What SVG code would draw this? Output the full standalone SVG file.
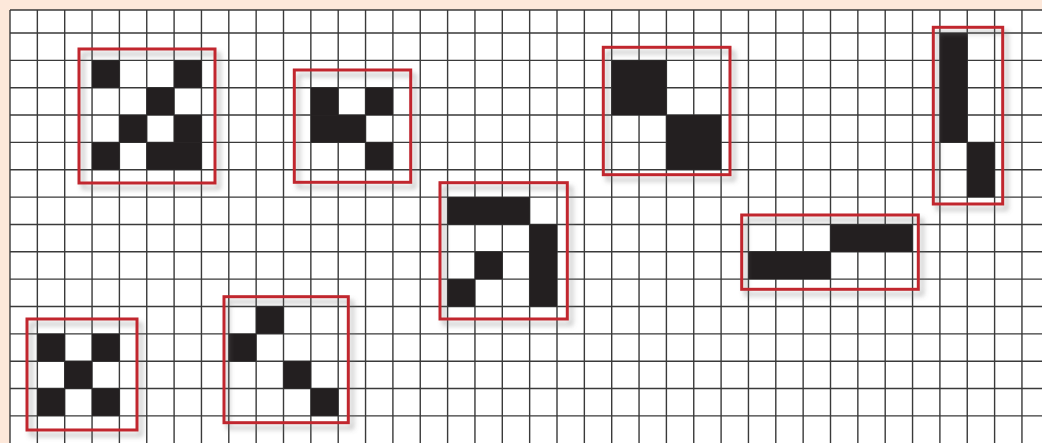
<svg xmlns="http://www.w3.org/2000/svg" width="1042" height="443" viewBox="0 0 1042 443">
<defs>
<style>
.grid{fill:none;stroke:#3a3a3a;stroke-width:1.4}
.b{fill:#231f20}
.frame{fill:none;stroke:#c1272d;stroke-width:3;filter:url(#sh)}
</style>
<filter id="sh" x="-20%" y="-20%" width="150%" height="150%">
<feDropShadow dx="4" dy="5" stdDeviation="2.5" flood-color="#6b6b6b" flood-opacity="0.45"/>
</filter>
</defs>
<rect x="0" y="0" width="1042" height="443" fill="#fde8da"/>
<rect x="10" y="10" width="1032" height="433" fill="#ffffff"/>
<g id="grid">
<path class="grid" d="M10 10V443M37.35 10V443M64.7 10V443M92.05 10V443M119.4 10V443M146.75 10V443M174.1 10V443M201.45 10V443M228.8 10V443M256.15 10V443M283.5 10V443M310.85 10V443M338.2 10V443M365.55 10V443M392.9 10V443M420.25 10V443M447.6 10V443M474.95 10V443M502.3 10V443M529.65 10V443M557 10V443M584.35 10V443M611.7 10V443M639.05 10V443M666.4 10V443M693.75 10V443M721.1 10V443M748.45 10V443M775.8 10V443M803.15 10V443M830.5 10V443M857.85 10V443M885.2 10V443M912.55 10V443M939.9 10V443M967.25 10V443M994.6 10V443M1021.95 10V443M10 10H1042M10 33H1042M10 60.35H1042M10 87.7H1042M10 115.05H1042M10 142.4H1042M10 169.75H1042M10 197.1H1042M10 224.45H1042M10 251.8H1042M10 279.15H1042M10 306.5H1042M10 333.85H1042M10 361.2H1042M10 388.55H1042M10 415.9H1042"/>
</g>
<g id="pattern1">
<rect class="b" x="92.05" y="60.35" width="27.35" height="27.35"/>
<rect class="b" x="174.1" y="60.35" width="27.35" height="27.35"/>
<rect class="b" x="146.75" y="87.7" width="27.35" height="27.35"/>
<rect class="b" x="119.4" y="115.05" width="27.35" height="27.35"/>
<rect class="b" x="174.1" y="115.05" width="27.35" height="27.35"/>
<rect class="b" x="92.05" y="142.4" width="27.35" height="27.35"/>
<rect class="b" x="146.75" y="142.4" width="54.7" height="27.35"/>
<rect class="frame" x="79" y="49" width="136" height="134"/>
</g>
<g id="pattern2">
<rect class="b" x="310.85" y="87.7" width="27.35" height="27.35"/>
<rect class="b" x="365.55" y="87.7" width="27.35" height="27.35"/>
<rect class="b" x="310.85" y="115.05" width="54.7" height="27.35"/>
<rect class="b" x="365.55" y="142.4" width="27.35" height="27.35"/>
<rect class="frame" x="294.3" y="70" width="116.4" height="112.3"/>
</g>
<g id="pattern3">
<rect class="b" x="611.7" y="60.35" width="54.7" height="54.7"/>
<rect class="b" x="666.4" y="115.05" width="54.7" height="54.7"/>
<rect class="frame" x="603.3" y="47.3" width="126.7" height="127.4"/>
</g>
<g id="pattern4">
<rect class="b" x="939.9" y="33" width="27.35" height="109.4"/>
<rect class="b" x="967.25" y="142.4" width="27.35" height="54.7"/>
<rect class="frame" x="933.3" y="27.3" width="69.4" height="176.7"/>
</g>
<g id="pattern5">
<rect class="b" x="447.6" y="197.1" width="82.05" height="27.35"/>
<rect class="b" x="529.65" y="224.45" width="27.35" height="82.05"/>
<rect class="b" x="474.95" y="251.8" width="27.35" height="27.35"/>
<rect class="b" x="447.6" y="279.15" width="27.35" height="27.35"/>
<rect class="frame" x="440" y="182.7" width="127.3" height="136.3"/>
</g>
<g id="pattern6">
<rect class="b" x="830.5" y="224.45" width="82.05" height="27.35"/>
<rect class="b" x="748.45" y="251.8" width="82.05" height="27.35"/>
<rect class="frame" x="741.7" y="215" width="176.6" height="74.3"/>
</g>
<g id="pattern7">
<rect class="b" x="256.15" y="306.5" width="27.35" height="27.35"/>
<rect class="b" x="228.8" y="333.85" width="27.35" height="27.35"/>
<rect class="b" x="283.5" y="361.2" width="27.35" height="27.35"/>
<rect class="b" x="310.85" y="388.55" width="27.35" height="27.35"/>
<rect class="frame" x="224" y="296.7" width="124.3" height="126"/>
</g>
<g id="pattern8">
<rect class="b" x="37.35" y="333.85" width="27.35" height="27.35"/>
<rect class="b" x="92.05" y="333.85" width="27.35" height="27.35"/>
<rect class="b" x="64.7" y="361.2" width="27.35" height="27.35"/>
<rect class="b" x="37.35" y="388.55" width="27.35" height="27.35"/>
<rect class="b" x="92.05" y="388.55" width="27.35" height="27.35"/>
<rect class="frame" x="27" y="319" width="110" height="111"/>
</g>
</svg>
